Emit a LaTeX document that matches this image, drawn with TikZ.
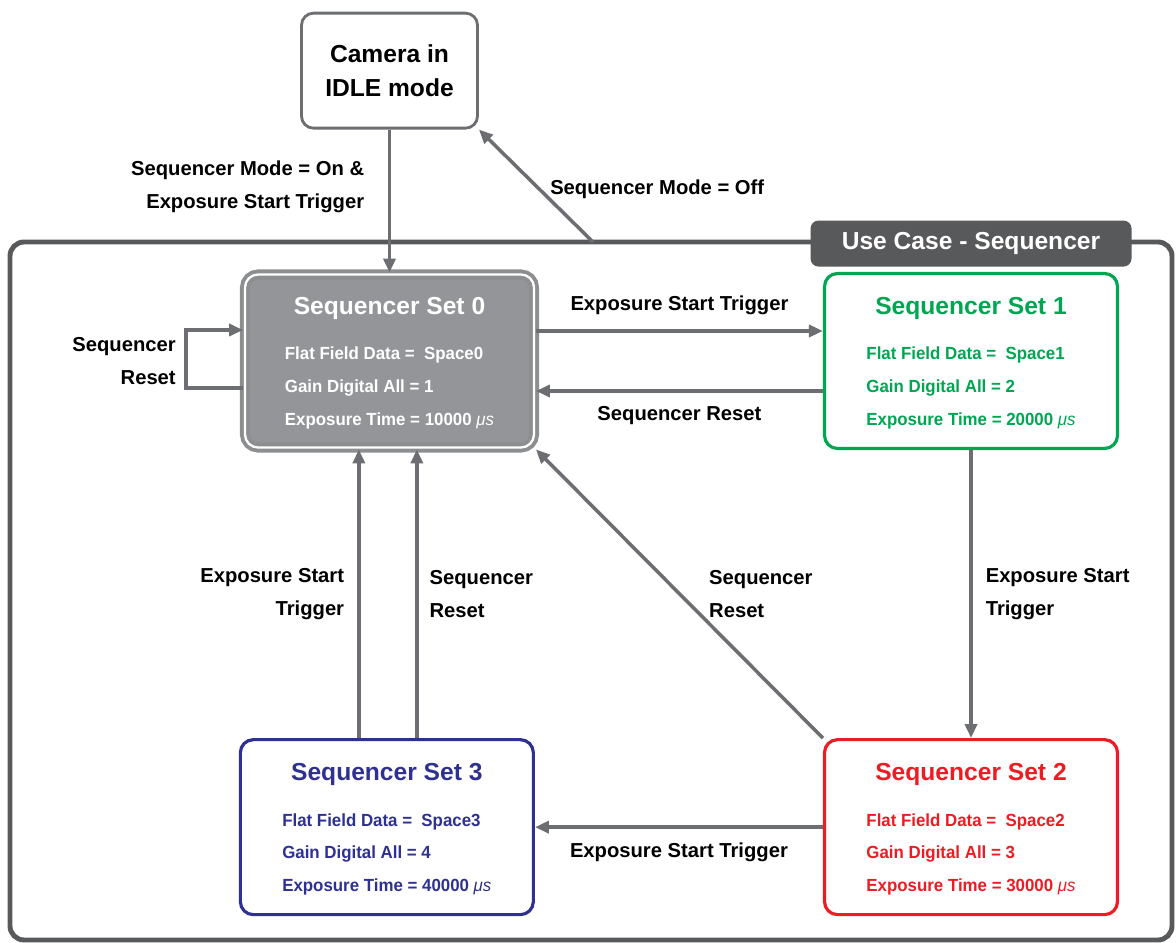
\documentclass[tikz,border=0pt]{standalone}
\usepackage{fontspec}
\setmainfont{Liberation Sans}
\newfontfamily\sqnarrow{Liberation Sans}[FakeStretch=0.96]
\usepackage{tikz}
\usetikzlibrary{arrows.meta,positioning}
\definecolor{sqdark}{RGB}{88,89,91}
\definecolor{sqarrow}{RGB}{109,110,113}
\definecolor{sqgray}{RGB}{147,149,152}
\definecolor{sqgreen}{RGB}{0,166,81}
\definecolor{sqred}{RGB}{237,28,36}
\definecolor{sqblue}{RGB}{46,49,146}
\newcommand{\sqset}[4]{\rule{0pt}{15.7pt}{\fontsize{14}{16}\selectfont #1}\\[9pt]
  {\sqnarrow\fontsize{10}{18.7}\selectfont\begin{tabular}[t]{@{}l@{}}Flat Field Data =\ \ Space#2\\Gain Digital All = #3\\Exposure Time = #4 {\mdseries\itshape μs}\end{tabular}}}
\tikzset{
  sqsetgray/.style={draw=sqgray!95!black, double=white, double distance=1.3pt, line width=2.2pt, fill=sqgray, text=white, rounded corners=2.6mm, align=center, font=\bfseries, minimum width=5.78cm, minimum height=3.46cm, inner sep=0pt},
  sqsetcol/.style={draw=#1, text=#1, line width=1.8pt, fill=white, rounded corners=2.6mm, align=center, font=\bfseries, minimum width=5.86cm, minimum height=3.5cm, inner sep=0pt},
  sqcam/.style={draw=sqarrow, line width=1.6pt, rounded corners=2.4mm, align=center, fill=white, minimum width=3.52cm, minimum height=2.3cm, font=\fontsize{14}{19.3}\selectfont\bfseries},
  sqtab/.style={fill=sqdark, text=white, rounded corners=1.6mm, minimum width=6.42cm, minimum height=0.92cm, font=\fontsize{14}{16}\selectfont\bfseries},
  sqframe/.style={draw=sqdark, line width=2.8pt, rounded corners=2.8mm},
  sqarr/.style={-{Triangle[length=2.8mm,width=2.4mm]}, line width=2pt, draw=sqarrow},
  sqlbl/.style={inner sep=0pt, font=\fontsize{11.5}{18.7}\selectfont\bfseries}
}
\begin{document}
\begin{tikzpicture}
  \useasboundingbox (0,0) rectangle (23.52,-18.86);
  % use case frame
  \draw[sqframe] (0.2,-4.84) rectangle (23.44,-18.8);
  \coordinate (fo) at (11.86,-4.84);
  % sequencer sets
  \node[sqsetgray] (s0) at (7.79,-7.22) {\sqset{Sequencer Set 0}{0}{1}{10000}};
  \node[sqsetcol=sqgreen, right=5.74cm of s0] (s1) {\sqset{Sequencer Set 1}{1}{2}{20000}};
  \node[sqsetcol=sqred, below=5.76cm of s1] (s2) {\sqset{Sequencer Set 2}{2}{3}{30000}};
  \node[sqsetcol=sqblue, left=5.76cm of s2] (s3) {\sqset{Sequencer Set 3}{3}{4}{40000}};
  \node[sqcam, above=2.86cm of s0] (cam) {Camera in\\IDLE mode};
  \node[sqtab, above=0.1cm of s1] (tab) {Use Case - Sequencer};
  % mode switching
  \draw[sqarr] (cam) -- (s0);
  \node[sqlbl, align=right, below left=0.62cm and 0.5cm of cam.south] (lon) {Sequencer Mode = On \&\\Exposure Start Trigger};
  \draw[sqarr] (fo) -- (cam.south east);
  \node[sqlbl, below right=1.0cm and 1.42cm of cam.south east] (loff) {Sequencer Mode = Off};
  % transitions
  \draw[sqarr] ([yshift=-5.4mm]s0.west) -- ++(-1.14,0) |- ([yshift=6.2mm]s0.west);
  \node[sqlbl, align=right, left=1.34cm of s0.west] (lloop) {Sequencer\\Reset};
  \draw[sqarr] ([yshift=6mm]s0.east) -- ([yshift=6mm]s0.east -| s1.west)
    node[sqlbl, midway, above=2.8mm] (l01) {Exposure Start Trigger};
  \draw[sqarr] ([yshift=-6mm]s1.west) -- ([yshift=-6mm]s1.west -| s0.east)
    node[sqlbl, midway, below=2.8mm] (l10) {Sequencer Reset};
  \draw[sqarr] (s1) -- (s2) node[sqlbl, midway, right=2.6mm, align=left] (l12) {Exposure Start\\Trigger};
  \draw[sqarr] (s2) -- (s3) node[sqlbl, midway, below=2.8mm] (l23) {Exposure Start Trigger};
  \draw[sqarr] (s2.north west) -- (s0.south east) node[sqlbl, midway, right=5.6mm, align=left] (l20) {Sequencer\\Reset};
  \draw[sqarr] ([xshift=-5.6mm]s3.north) -- ([xshift=-5.6mm]s3.north |- s0.south)
    node[sqlbl, midway, left=2.6mm, align=right] (l30a) {Exposure Start\\Trigger};
  \draw[sqarr] ([xshift=6mm]s3.north) -- ([xshift=6mm]s3.north |- s0.south)
    node[sqlbl, midway, right=2.2mm, align=left] (l30b) {Sequencer\\Reset};
\end{tikzpicture}
\end{document}
